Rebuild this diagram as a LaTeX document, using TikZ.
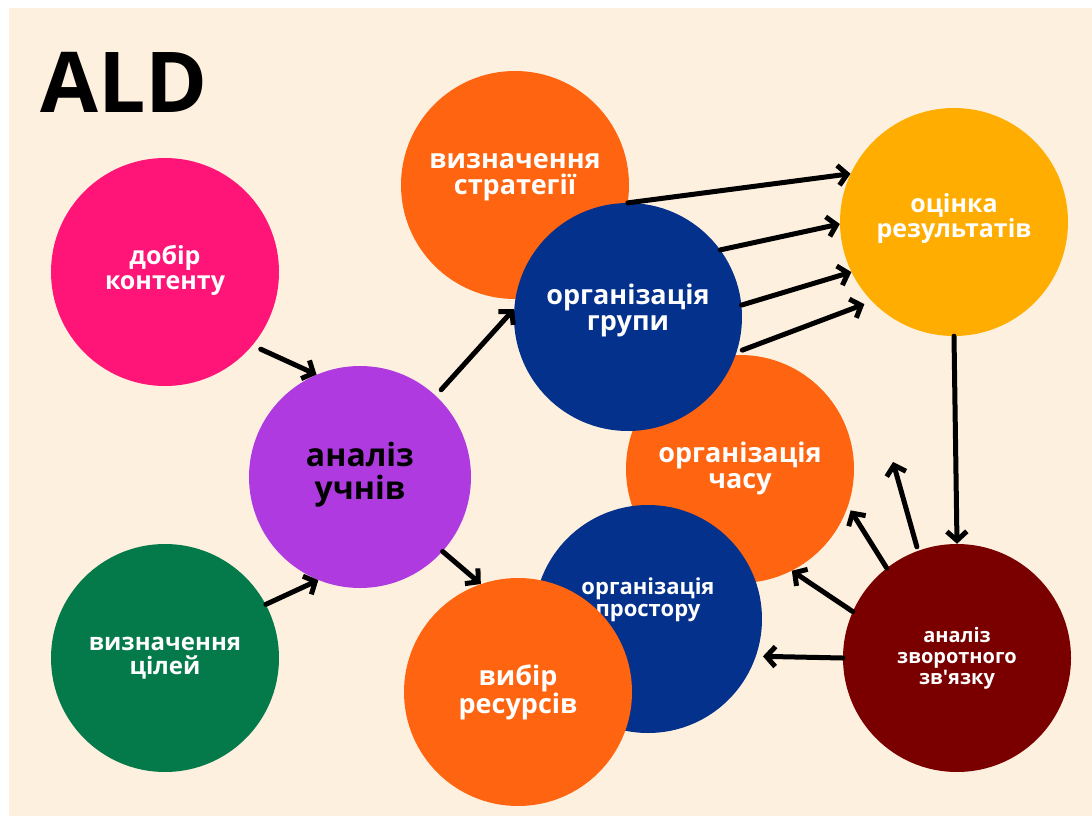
\documentclass[tikz,border=0pt]{standalone}
\usepackage{fontspec}
\setmainfont{Open Sans}[Ligatures=TeXOff]
\usetikzlibrary{arrows.meta}

\definecolor{cream}{HTML}{FEF0DF}
\definecolor{rose}{HTML}{FE1577}
\definecolor{forest}{HTML}{047A4B}
\definecolor{violet}{HTML}{AF3BE0}
\definecolor{tangerine}{HTML}{FF6410}
\definecolor{navy}{HTML}{04318C}
\definecolor{amber}{HTML}{FFAD00}
\definecolor{maroon}{HTML}{7A0000}

\begin{document}
\begin{tikzpicture}[x=1pt,y=-1pt,
  bubble/.style={circle,minimum size=228pt,inner sep=0pt,align=center,
    text=white,font=\bfseries\fontsize{25}{25}\selectfont},
  big/.style={font=\bfseries\fontsize{27}{26}\selectfont},
  link/.style={line width=5pt,line cap=round,
    -{Straight Barb[length=9pt,width=20pt,line width=5pt]}}]
\useasboundingbox (0,0) rectangle (1092,816);
\fill[cream] (9,8) rectangle (1092,816);
\node[anchor=base west,font=\bfseries\fontsize{84}{84}\selectfont] (title) at (37,112) {ALD};

% circles
\node[bubble,fill=rose] (dobir) at (165,272) {добір\\контенту\\[-15pt]};
\node[bubble,fill=forest,font=\bfseries\fontsize{24}{24}\selectfont] (tsili) at (165,658) {визначення\\цілей};
\node[bubble,fill=violet,minimum size=222pt,text=black,
  font=\bfseries\fontsize{32}{33}\selectfont] (uchni) at (360,477) {аналіз\\учнів\\[-20pt]};
\node[bubble,big,fill=tangerine] (stratehii) at (515,185) {визначення\\стратегії\\[-4pt]};
\node[bubble,big,fill=tangerine] (chas) at (740,469) {організація\\часу\\[-18pt]};
\node[bubble,big,fill=navy] (hrupa) at (628,317) {організація\\групи\\[-6pt]};
\node[bubble,fill=amber] (otsinka) at (954,222) {оцінка\\результатів\\[-12pt]};
\node[bubble,fill=navy,font=\bfseries\fontsize{22}{22}\selectfont,
  text depth=44pt] (prostir) at (648,619) {організація\\простору};
\node[bubble,big,fill=tangerine] (resursy) at (518,692) {вибір\\ресурсів};
\node[bubble,fill=maroon,font=\bfseries\fontsize{20}{21}\selectfont] (zvyazok) at (957,658)
  {аналіз\\зворотного\\зв'язку};
\coordinate (vilno) at (893,462);

% arrows
\draw[link,shorten <=9pt] (dobir.-40) -- (uchni.113);
\draw[link] (tsili.28) -- (uchni.-112);
\draw[link,shorten <=8pt] (uchni.47) -- (hrupa.176);
\draw[link] (uchni.-42) -- (resursy.109);
\draw[link] (stratehii.-9) -- (otsinka.155);
\draw[link] (hrupa.36) -- (otsinka.181);
\draw[link] (hrupa.6) -- (otsinka.206);
\draw[link,shorten <=6pt,shorten >=8pt] (hrupa.-18) -- (otsinka.224);
\draw[link] (otsinka.-90) -- (zvyazok.90);
\draw[link,shorten >=7pt] (zvyazok.180) -- (prostir.-19);
\draw[link] (zvyazok.156) -- (chas.-63);
\draw[link,shorten >=5pt] (zvyazok.128) -- (chas.-19);
\draw[link,shorten <=4pt] (zvyazok.110) -- (vilno);
\end{tikzpicture}
\end{document}
